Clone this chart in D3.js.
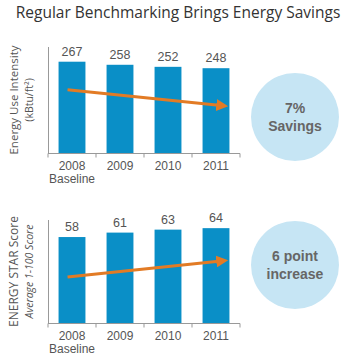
<!DOCTYPE html>
<html lang="en">
<head>
<meta charset="UTF-8">
<title>Regular Benchmarking Brings Energy Savings</title>
<script src="https://d3js.org/d3.v7.min.js"></script>
<style>
  body { margin: 0; background: #fff; }
  svg text { font-family: "Liberation Sans", Arial, sans-serif; }
</style>
</head>
<body>
<svg id="chart" width="350" height="356"></svg>
<script>
// Data
const years = ["2008", "2009", "2010", "2011"];
const euiValues = [267, 258, 252, 248];
const scoreValues = [58, 61, 63, 64];
const euiCallout = ["7%", "Savings"];
const scoreCallout = ["6 point", "increase"];

const svg = d3.select("#chart");
const barColor = "#0A8FC7";
const arrowColor = "#E27B25";

svg.append("defs").append("marker")
    .attr("id", "head")
    .attr("viewBox", "0 0 10 10")
    .attr("refX", 6).attr("refY", 5)
    .attr("markerWidth", 4).attr("markerHeight", 4)
    .attr("orient", "auto")
    .append("path")
    .attr("d", "M0,0 L10,5 L0,10 Z")
    .attr("fill", arrowColor);

svg.append("text")
    .attr("x", 178).attr("y", 18)
    .attr("text-anchor", "middle")
    .style("font-family", "'Open Sans', sans-serif")
    .style("font-size", "15.5px")
    .attr("fill", "#333")
    .text("Regular Benchmarking Brings Energy Savings");

function panel(opts) {
    const g = svg.append("g");
    const x = d3.scaleBand().domain(years).range([48, 240]).paddingInner(0.44).paddingOuter(0.22);
    const y = d3.scaleLinear().domain([0, opts.max]).range([opts.bottom, opts.top]);

    // y axis line
    g.append("line")
        .attr("x1", 48.5).attr("x2", 48.5)
        .attr("y1", opts.top).attr("y2", opts.bottom)
        .attr("stroke", "#999");

    // x axis
    const xa = g.append("g")
        .attr("transform", `translate(0,${opts.bottom + 0.5})`)
        .call(d3.axisBottom(x).tickSize(0).tickFormat(""));
    xa.select(".domain").attr("stroke", "#999").attr("d", "M48,0H240");
    const edges = d3.range(years.length + 1).map(i => 48 + i * x.step());
    xa.selectAll(".sep").data(edges).join("line")
        .attr("x1", d => d).attr("x2", d => d)
        .attr("y1", 0).attr("y2", 4)
        .attr("stroke", "#999");

    g.selectAll("rect").data(opts.values).join("rect")
        .attr("x", (d, i) => x(years[i]))
        .attr("width", x.bandwidth())
        .attr("y", d => y(d))
        .attr("height", d => opts.bottom - y(d))
        .attr("fill", barColor);

    g.selectAll(".val").data(opts.values).join("text")
        .attr("x", (d, i) => x(years[i]) + x.bandwidth() / 2)
        .attr("y", d => y(d) - 6)
        .attr("text-anchor", "middle")
        .attr("fill", "#555")
        .style("font-size", "12.5px")
        .text(d => d);

    g.selectAll(".yr").data(years).join("text")
        .attr("x", d => x(d) + x.bandwidth() / 2)
        .attr("y", opts.bottom + 17)
        .attr("text-anchor", "middle")
        .attr("fill", "#555")
        .style("font-size", "12px")
        .text(d => d);

    g.append("text")
        .attr("x", x(years[0]) + x.bandwidth() / 2)
        .attr("y", opts.bottom + 30)
        .attr("text-anchor", "middle")
        .attr("fill", "#555")
        .style("font-size", "12px")
        .text("Baseline");

    // y titles
    const cy = (opts.top + opts.bottom) / 2;
    g.append("text")
        .attr("transform", `translate(18,${cy}) rotate(-90)`)
        .attr("text-anchor", "middle")
        .attr("fill", "#555")
        .style("font-size", opts.t1size)
        .style("font-family", "'Open Sans', sans-serif")
        .text(opts.title1);
    g.append("text")
        .attr("transform", `translate(33,${cy}) rotate(-90)`)
        .attr("text-anchor", "middle")
        .attr("fill", "#555")
        .style("font-size", "10.5px")
        .style("font-style", opts.italic ? "italic" : "normal")
        .style("font-family", "'Open Sans', sans-serif")
        .text(opts.title2);

    // trend arrow
    const a0 = x(years[0]) + 9, a1 = x(years[years.length - 1]) + x.bandwidth() - 6;
    g.append("line")
        .attr("x1", a0).attr("y1", y(opts.arrow[0]))
        .attr("x2", a1).attr("y2", y(opts.arrow[1]))
        .attr("stroke", arrowColor)
        .attr("stroke-width", 3)
        .attr("marker-end", "url(#head)");

    // callout circle
    g.append("circle")
        .attr("cx", 295).attr("cy", opts.cc)
        .attr("r", 44)
        .attr("fill", "#C6E5F4");
    g.selectAll(".call").data(opts.callout).join("text")
        .attr("x", 295)
        .attr("y", (d, i) => opts.cc - 9 + i * 18)
        .attr("text-anchor", "middle")
        .attr("dy", "0.35em")
        .attr("fill", "#666")
        .style("font-size", "14px")
        .style("font-weight", "bold")
        .text(d => d);
}

panel({
    values: euiValues, max: 310, top: 47, bottom: 153,
    title1: "Energy Use Intensity", t1size: "11.5px",
    title2: "(kBtu/ft²)", italic: false,
    arrow: [185, 138], cc: 117, callout: euiCallout
});

panel({
    values: scoreValues, max: 69.5, top: 220, bottom: 323,
    title1: "ENERGY STAR Score", t1size: "12px",
    title2: "Average 1-100 Score", italic: true,
    arrow: [31, 42], cc: 265, callout: scoreCallout
});
</script>
</body>
</html>
